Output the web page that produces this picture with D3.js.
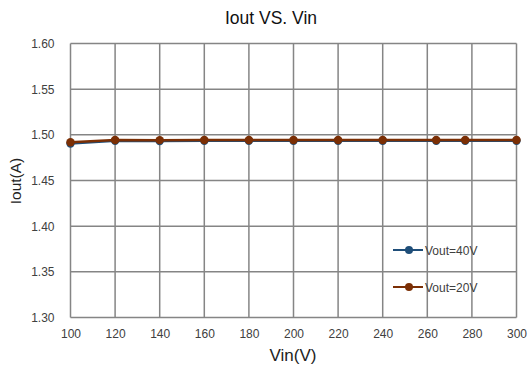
<!DOCTYPE html>
<html>
<head>
<meta charset="utf-8">
<script src="https://cdn.jsdelivr.net/npm/d3@7"></script>
<style>
  body { margin: 0; background: #fff; }
  text { font-family: "Liberation Sans", Arial, sans-serif; }
</style>
</head>
<body>
<div id="chart"></div>
<script>
// Data
const vin40 = [100, 120, 140, 160, 180, 200, 220, 240, 264, 277, 300];
const iout40 = [1.4905, 1.4935, 1.4933, 1.4935, 1.4935, 1.4935, 1.4935, 1.4935, 1.4935, 1.4935, 1.4935];
const vin20 = [100, 120, 140, 160, 180, 200, 220, 240, 264, 277, 300];
const iout20 = [1.4918, 1.4943, 1.4942, 1.4943, 1.4943, 1.4943, 1.4943, 1.4943, 1.4944, 1.4943, 1.4943];
const xTicks = [100, 120, 140, 160, 180, 200, 220, 240, 260, 280, 300];
const yTicks = [1.30, 1.35, 1.40, 1.45, 1.50, 1.55, 1.60];
const seriesNames = ['Vout=40V', 'Vout=20V'];
const seriesColors = ['#1f4e79', '#7b2f05'];

const W = 528, H = 369;
const margin = { top: 43.5, right: 11.5, bottom: 51.5, left: 70.5 };
const width = W - margin.left - margin.right;
const height = H - margin.top - margin.bottom;

const svg = d3.select('#chart').append('svg')
  .attr('width', W)
  .attr('height', H);

const g = svg.append('g')
  .attr('transform', 'translate(' + margin.left + ',' + margin.top + ')');

const x = d3.scaleLinear().domain([100, 300]).range([0, width]);
const y = d3.scaleLinear().domain([1.30, 1.60]).range([height, 0]);

// grid
g.selectAll('.vgrid')
  .data(xTicks).enter().append('line')
    .attr('x1', d => x(d)).attr('x2', d => x(d))
    .attr('y1', 0).attr('y2', height)
    .attr('stroke', '#858585').attr('stroke-width', 1.5);
g.selectAll('.hgrid')
  .data(yTicks).enter().append('line')
    .attr('x1', 0).attr('x2', width)
    .attr('y1', d => y(d)).attr('y2', d => y(d))
    .attr('stroke', '#858585').attr('stroke-width', 1.5);

// axes
const xAxis = g.append('g')
  .attr('transform', 'translate(0,' + height + ')')
  .call(d3.axisBottom(x).tickValues(xTicks).tickSize(0).tickPadding(12));
const yAxis = g.append('g')
  .call(d3.axisLeft(y).tickValues(yTicks).tickSize(0).tickPadding(16).tickFormat(d3.format('.2f')));
[xAxis, yAxis].forEach(a => {
  a.select('.domain').remove();
  a.selectAll('text')
    .attr('fill', '#404040')
    .style('font-size', '12px')
    .style('font-family', '"Liberation Sans", Arial, sans-serif');
});

// series
const line = d3.line().x(d => x(d[0])).y(d => y(d[1]));
const series = [
  vin40.map((v, i) => [v, iout40[i]]),
  vin20.map((v, i) => [v, iout20[i]])
];

series.forEach((s, i) => {
  g.append('path')
    .datum(s)
    .attr('d', line)
    .attr('fill', 'none')
    .attr('stroke', seriesColors[i])
    .attr('stroke-width', 2.5);
  g.selectAll('.pt' + i)
    .data(s).enter().append('circle')
      .attr('cx', d => x(d[0]))
      .attr('cy', d => y(d[1]))
      .attr('r', 4.2)
      .attr('fill', seriesColors[i]);
});

// legend
const legend = svg.append('g');
seriesNames.forEach((name, i) => {
  const ly = 250 + i * 37;
  legend.append('line')
    .attr('x1', 393).attr('x2', 423)
    .attr('y1', ly).attr('y2', ly)
    .attr('stroke', seriesColors[i]).attr('stroke-width', 2);
  legend.append('circle')
    .attr('cx', 409).attr('cy', ly).attr('r', 4)
    .attr('fill', seriesColors[i]);
  legend.append('text')
    .attr('x', 425).attr('y', ly + 4.5)
    .attr('fill', '#404040')
    .style('font-size', '12px')
    .text(name);
});

// titles
svg.append('text')
  .attr('x', 271).attr('y', 24)
  .attr('text-anchor', 'middle')
  .attr('fill', '#111')
  .style('font-size', '17.5px')
  .text('Iout VS. Vin');

svg.append('text')
  .attr('x', 293).attr('y', 361)
  .attr('text-anchor', 'middle')
  .attr('fill', '#222')
  .style('font-size', '17px')
  .text('Vin(V)');

svg.append('text')
  .attr('transform', 'translate(21,181) rotate(-90)')
  .attr('text-anchor', 'middle')
  .attr('fill', '#222')
  .style('font-size', '15.5px')
  .text('Iout(A)');
</script>
</body>
</html>
